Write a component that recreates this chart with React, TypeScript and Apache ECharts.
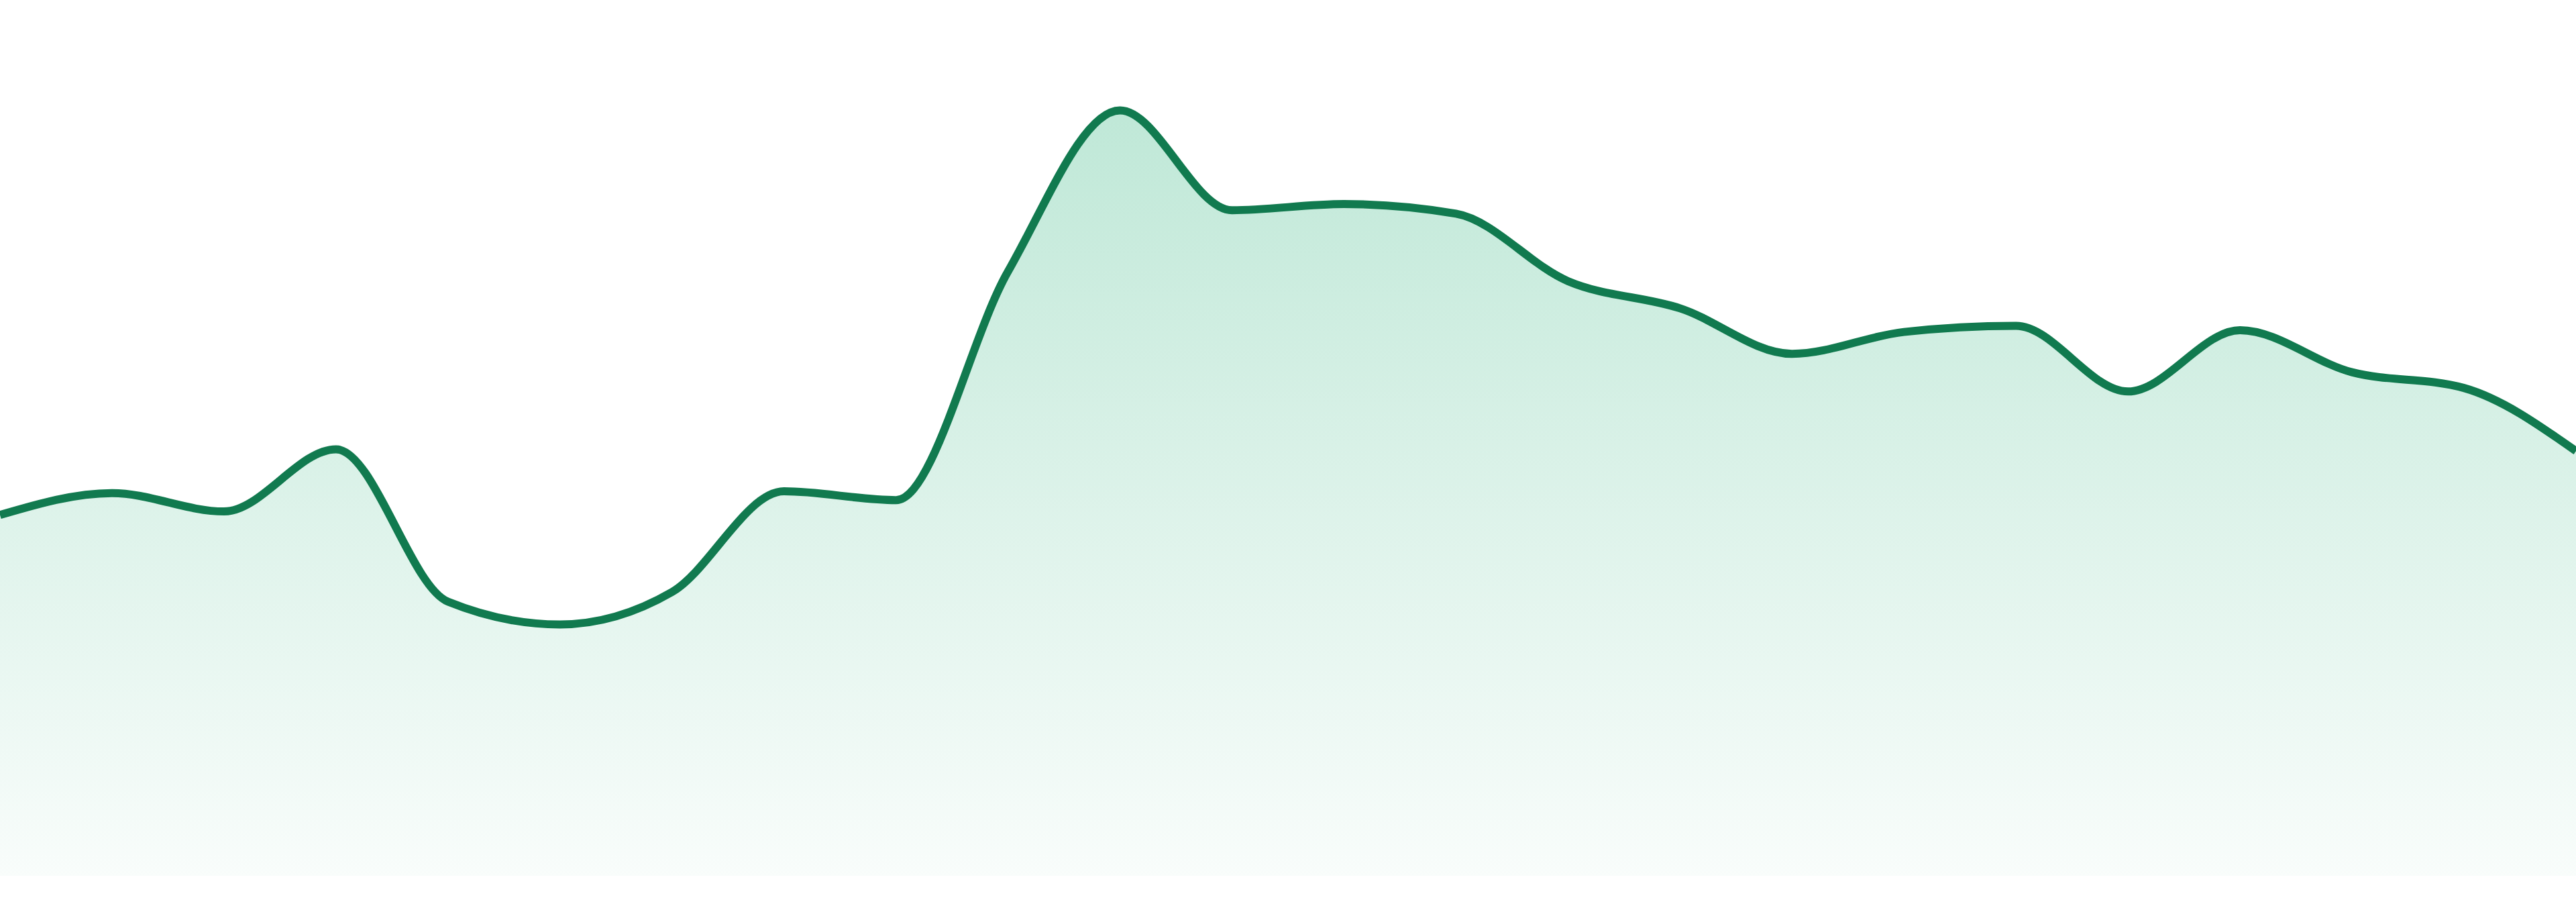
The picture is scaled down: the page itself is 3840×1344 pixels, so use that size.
import React, { useEffect, useRef } from 'react'
import * as echarts from 'echarts'

// 24 evenly spaced samples
const categories = [
    'P01', 'P02', 'P03', 'P04', 'P05', 'P06', 'P07', 'P08', 'P09', 'P10', 'P11', 'P12',
    'P13', 'P14', 'P15', 'P16', 'P17', 'P18', 'P19', 'P20', 'P21', 'P22', 'P23', 'P24',
]
const values = [
    41.2, 43.7, 41.6, 48.7, 31.3, 28.7, 32.4, 43.9, 42.9, 69.0, 87.4, 76.0,
    76.7, 75.6, 67.9, 64.8, 59.6, 62.1, 62.8, 55.3, 62.3, 57.5, 55.7, 48.5,
]
const yMin = 0
const yMax = 100

const LINE_COLOR = '#117a4f'

// monotone-x cubic (same idea as d3.curveMonotoneX), pixel points in, path out
const sign = (x: number) => (x < 0 ? -1 : 1)

const tangents = (pts: number[][]) => {
    const n = pts.length
    const t: number[] = new Array(n).fill(0)
    if (n < 3) {
        return t
    }
    for (let i = 1; i < n - 1; i++) {
        const [x0, y0] = pts[i - 1]
        const [x1, y1] = pts[i]
        const [x2, y2] = pts[i + 1]
        const h0 = x1 - x0
        const h1 = x2 - x1
        const s0 = (y1 - y0) / h0
        const s1 = (y2 - y1) / h1
        const p = (s0 * h1 + s1 * h0) / (h0 + h1)
        t[i] = (sign(s0) + sign(s1)) * Math.min(Math.abs(s0), Math.abs(s1), 0.5 * Math.abs(p)) || 0
    }
    const sFirst = (pts[1][1] - pts[0][1]) / (pts[1][0] - pts[0][0])
    t[0] = (3 * sFirst - t[1]) / 2
    const sLast = (pts[n - 1][1] - pts[n - 2][1]) / (pts[n - 1][0] - pts[n - 2][0])
    t[n - 1] = (3 * sLast - t[n - 2]) / 2
    return t
}

const MonotoneShape = echarts.graphic.extendShape({
    shape: { points: [] as number[][], baseY: 0, closed: false },
    buildPath(ctx: any, shape: any) {
        const pts: number[][] = shape.points
        if (!pts || pts.length < 2) {
            return
        }
        const t = tangents(pts)
        ctx.moveTo(pts[0][0], pts[0][1])
        for (let i = 0; i < pts.length - 1; i++) {
            const [x0, y0] = pts[i]
            const [x1, y1] = pts[i + 1]
            const dx = (x1 - x0) / 3
            ctx.bezierCurveTo(x0 + dx, y0 + dx * t[i], x1 - dx, y1 - dx * t[i + 1], x1, y1)
        }
        if (shape.closed) {
            ctx.lineTo(pts[pts.length - 1][0], shape.baseY)
            ctx.lineTo(pts[0][0], shape.baseY)
            ctx.closePath()
        }
    },
})
echarts.graphic.registerShape('monotoneCurve', MonotoneShape)

const App: React.FC = () => {
    const chartRef = useRef<HTMLDivElement>(null)

    useEffect(() => {
        if (!chartRef.current) {
            return
        }
        const chart = echarts.init(chartRef.current, null, { renderer: 'svg' })

        const option = {
            animation: false,
            backgroundColor: '#ffffff',
            grid: { left: 0, right: 0, top: 0, bottom: 39 },
            tooltip: { show: false },
            xAxis: {
                type: 'category',
                data: categories,
                boundaryGap: false,
                show: false,
            },
            yAxis: {
                type: 'value',
                min: yMin,
                max: yMax,
                show: false,
            },
            series: [
                {
                    name: 'value',
                    type: 'custom',
                    data: values.map((v, i) => [i, v]),
                    encode: { x: 0, y: 1 },
                    renderItem: (params: any, api: any) => {
                        // whole curve drawn once, from the axis scales
                        if (params.dataIndex !== 0) {
                            return null
                        }
                        const pts = values.map((v, i) => api.coord([i, v]))
                        const baseY = api.coord([0, yMin])[1]
                        return {
                            type: 'group',
                            children: [
                                {
                                    type: 'monotoneCurve',
                                    shape: { points: pts, baseY, closed: true },
                                    style: {
                                        fill: new echarts.graphic.LinearGradient(0, 0, 0, 1, [
                                            { offset: 0, color: 'rgba(42,178,122,0.30)' },
                                            { offset: 1, color: 'rgba(42,178,122,0.03)' },
                                        ]),
                                        stroke: 'none',
                                    },
                                },
                                {
                                    type: 'monotoneCurve',
                                    shape: { points: pts, baseY, closed: false },
                                    style: {
                                        fill: 'none',
                                        stroke: LINE_COLOR,
                                        lineWidth: 12,
                                        lineJoin: 'round',
                                    },
                                },
                            ],
                        }
                    },
                },
            ],
        }

        chart.setOption(option)

        const handleResize = () => {
            chart.resize()
        }
        window.addEventListener('resize', handleResize)

        return () => {
            window.removeEventListener('resize', handleResize)
            chart.dispose()
        }
    }, [])

    return (
        <div
            ref={chartRef}
            style={{ position: 'absolute', left: 0, top: 0, width: '3840px', height: '1344px', background: '#fff' }}
        />
    )
}

export default App
